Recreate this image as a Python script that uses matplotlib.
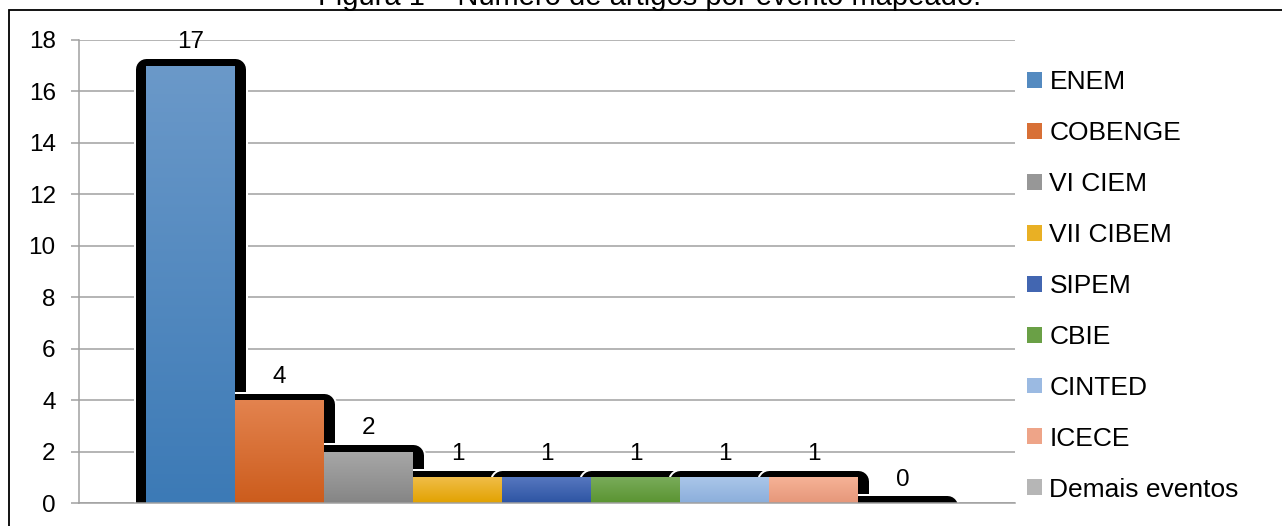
import numpy as np
import matplotlib
matplotlib.use('Agg')
import matplotlib.pyplot as plt
import matplotlib.patheffects as pe
from matplotlib.colors import LinearSegmentedColormap, to_rgb
from matplotlib.patches import Patch, Rectangle

plt.rcParams['font.family'] = ['Liberation Sans', 'DejaVu Sans']

eventos = ['ENEM', 'COBENGE', 'VI CIEM', 'VII CIBEM', 'SIPEM', 'CBIE',
           'CINTED', 'ICECE', 'Demais eventos']
artigos = [17, 4, 2, 1, 1, 1, 1, 1, 0]
cor_topo = ['#6B99C9', '#E3834F', '#A8A8A8', '#F0BD48', '#5677BF', '#79AB5A',
            '#AAC6E9', '#F6B296', '#C4C4C4']
cor_base = ['#3C7AB6', '#CC5C1C', '#858585', '#E2A200', '#2D54A3', '#5A9431',
            '#8BAEDB', '#E6977A', '#A8A8A8']

W, H = 1282, 526
fig = plt.figure(figsize=(W / 100, H / 100), dpi=100)
ax = fig.add_axes([79 / W, 23 / H, 936 / W, 463 / H])

x = np.arange(len(artigos))
px = 72 / 100  # points per pixel

# sombra preta arredondada atras das barras (altura minima p/ a barra zero)
alt_sombra = [max(v, 0.02) for v in artigos]
sombra = ax.bar(x, alt_sombra, width=1.0, color='black', linewidth=0, zorder=2)
for b in sombra:
    b.set_path_effects([
        pe.Stroke(offset=(-0.5 * px, -3.5 * px), linewidth=25 * px,
                  foreground='white', joinstyle='round'),
        pe.Stroke(offset=(-0.5 * px, -3.5 * px), linewidth=21 * px,
                  foreground='black', joinstyle='round'),
    ])

# barras com degrade vertical
barras = ax.bar(x, artigos, width=1.0, color='none', linewidth=0, zorder=3)
grad = np.linspace(1, 0, 256).reshape(-1, 1)
for i, b in enumerate(barras):
    if artigos[i] <= 0:
        continue
    cmap = LinearSegmentedColormap.from_list('g%d' % i, [cor_base[i], cor_topo[i]])
    im = ax.imshow(grad, cmap=cmap, aspect='auto', zorder=3,
                   extent=[b.get_x(), b.get_x() + b.get_width(), 0, b.get_height()])
    im.set_clip_path(b)

# rotulos de dados
for i, b in enumerate(barras):
    ax.annotate('%d' % artigos[i], (b.get_x() + b.get_width() / 2, b.get_height()),
                xytext=(0, 17.5 * px), textcoords='offset points',
                ha='center', va='baseline', fontsize=17.5, zorder=5)

ax.set_xlim(-0.5 - 67 / 89, len(artigos) - 0.5 + 68 / 89)
ax.set_ylim(0, 18)
ax.set_yticks(np.arange(0, 19, 2))
ax.set_xticks([])
ax.yaxis.grid(True, color='#A0A0A0', linewidth=1.1)
ax.set_axisbelow(True)
for s in ['top', 'right']:
    ax.spines[s].set_visible(False)
for s in ['left', 'bottom']:
    ax.spines[s].set_color('#A0A0A0')
    ax.spines[s].set_linewidth(1.1)
    ax.spines[s].set_zorder(4)
ax.tick_params(axis='y', length=8 * px, width=1.1, color='#A0A0A0',
               labelsize=17.5, pad=11)

# legenda
handles = [Patch(facecolor=tuple((np.array(to_rgb(a)) + np.array(to_rgb(b))) / 2),
                 edgecolor='none') for a, b in zip(cor_topo, cor_base)]
leg = ax.legend(handles, eventos, loc='center left',
                bbox_to_anchor=(1027 / W, 1 - 286 / H), bbox_transform=fig.transFigure,
                frameon=False, fontsize=19, borderpad=0, borderaxespad=0,
                handlelength=0.55, handleheight=0.55, handletextpad=0.3,
                labelspacing=1.02)

# moldura e titulo
fig.add_artist(Rectangle((9 / W, -0.1), 1.2, 1 - 10 / H + 0.1, transform=fig.transFigure,
                         fill=False, edgecolor='black', linewidth=1.3))
fig.text(650 / W, 1 - 5 / H, 'Figura 1 – Número de artigos por evento mapeado.',
         ha='center', va='baseline', fontsize=21)

fig.savefig('out.png', dpi=100)
